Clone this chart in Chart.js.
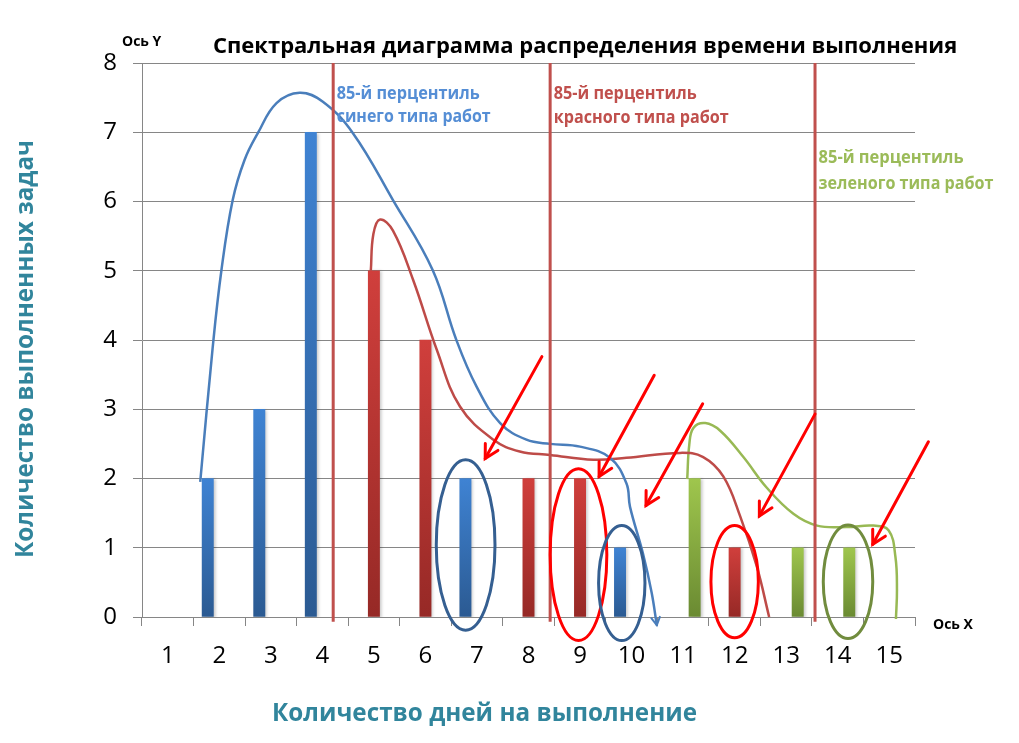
<!DOCTYPE html>
<html>
<head>
<meta charset="utf-8">
<script src="https://cdn.jsdelivr.net/npm/chart.js@4.4.1/dist/chart.umd.min.js"></script>
<style>
  html, body { margin: 0; padding: 0; background: #fff; }
</style>
</head>
<body>
<canvas id="spectrum" width="1019" height="743"></canvas>
<script>
const days = ["1", "2", "3", "4", "5", "6", "7", "8", "9", "10", "11", "12", "13", "14", "15"];

const blueTasks = [null, 2, 3, 7, null, null, 2, null, null, 1, null, null, null, null, null];
const redTasks = [null, null, null, null, 5, 4, null, 2, 2, null, null, 1, null, null, null];
const greenTasks = [null, null, null, null, null, null, null, null, null, null, 2, null, 1, 1, null];

// hand drawn trend curves, [day, tasks]
const blueCurve = [
  [1.63, 1.95], [1.87, 3.88], [2.04, 5.0], [2.26, 6.02], [2.49, 6.6], [2.75, 6.99], [3.11, 7.42],
  [3.56, 7.57], [4.01, 7.44], [4.59, 6.99], [5.37, 6.02], [6.14, 5.01], [6.6, 4.0],
  [6.99, 3.33], [7.45, 2.8], [7.96, 2.56], [8.42, 2.5], [9.0, 2.46], [9.58, 2.3],
  [9.9, 1.93], [9.97, 1.59], [10.22, 0.92], [10.39, 0.35], [10.49, -0.12],
];
const redCurve = [
  [4.94, 5.0], [4.99, 5.53], [5.12, 5.74], [5.37, 5.58], [5.76, 4.87], [6.22, 3.86],
  [6.67, 3.04], [7.32, 2.56], [7.83, 2.39], [8.42, 2.34], [9.26, 2.27], [9.9, 2.3],
  [10.94, 2.37], [11.39, 2.31], [11.78, 2.03], [12.11, 1.45], [12.43, 0.73], [12.67, 0.0],
];
const greenCurve = [
  [11.08, 1.99], [11.12, 2.49], [11.2, 2.73], [11.43, 2.8], [11.72, 2.69], [12.17, 2.31],
  [12.62, 1.87], [13.14, 1.49], [13.6, 1.32], [14.18, 1.3], [14.69, 1.32], [14.99, 1.25],
  [15.12, 0.87], [15.15, 0.39], [15.13, -0.03],
];

const percentiles = [4.21, 8.42, 13.56];
const percentileText = [
  ["85-й перцентиль", "синего типа работ"],
  ["85-й перцентиль", "красного типа работ"],
  ["85-й перцентиль", "зеленого типа работ"],
];

// circled bars: [day, tasks, half width in days, half height in tasks]
const circles = [
  [6.78, 1.04, 0.57, 1.23],
  [8.97, 0.9, 0.55, 1.24],
  [9.81, 0.49, 0.45, 0.83],
  [12.0, 0.51, 0.46, 0.81],
  [14.2, 0.51, 0.48, 0.82],
];
// arrows: [fromDay, fromTasks, toDay, toTasks]
const arrows = [
  [8.26, 3.76, 7.16, 2.29],
  [10.44, 3.49, 9.37, 2.03],
  [11.38, 3.08, 10.28, 1.61],
  [13.56, 2.93, 12.48, 1.46],
  [15.76, 2.53, 14.68, 1.05],
];

const FONT = "'Open Sans', 'Noto Sans', sans-serif";
const circleColors = ["#355f91", "#ff0000", "#355f91", "#ff0000", "#718c3e"];
const labelColors = ["#558ed5", "#c0504d", "#9bbb59"];
const SLOT = 0.224; // side shift of blue / green columns inside a day, like excel clusters

const barFill = (top, bottom) => (c) => {
  const y = c.chart.scales.y;
  if (!y || !c.raw || !c.chart.chartArea) return top;
  const g = c.chart.ctx.createLinearGradient(0, y.getPixelForValue(c.raw.y), 0, y.getPixelForValue(0));
  g.addColorStop(0, top);
  g.addColorStop(1, bottom);
  return g;
};

// bars sit on the day axis, shifted left/right inside the day like a clustered column
const bars = (label, values, shift, top, bottom) => ({
  label: label,
  xAxisID: "xl",
  grouped: false,
  data: values
    .map((v, i) => ({ x: Number(days[i]) + shift, y: v }))
    .filter((p) => p.y !== null),
  backgroundColor: barFill(top, bottom),
  categoryPercentage: 1,
  barPercentage: 1,
  maxBarThickness: 11.3,
});

const curve = (points, color) => ({
  type: "line",
  xAxisID: "xl",
  data: points.map(([x, y]) => ({ x, y })),
  borderColor: color,
  borderWidth: 2.5,
  pointRadius: 0,
  tension: 0.4,
  fill: false,
  clip: false,
});

const markerLine = (x) => ({
  type: "line",
  xAxisID: "xl",
  data: [{ x: x, y: 8 }, { x: x, y: -0.07 }],
  borderColor: "#c0504d",
  borderWidth: 3,
  pointRadius: 0,
  fill: false,
  clip: false,
});

const barShadow = {
  id: "barShadow",
  beforeDatasetDraw(chart, args) {
    if (args.meta.type !== "bar") return;
    const ctx = chart.ctx;
    ctx.save();
    ctx.shadowColor = "rgba(0,0,0,0.22)";
    ctx.shadowBlur = 3;
    ctx.shadowOffsetX = 2;
    ctx.shadowOffsetY = 1;
  },
  afterDatasetDraw(chart, args) {
    if (args.meta.type !== "bar") return;
    chart.ctx.restore();
  },
};

const arrowHead = (ctx, x1, y1, x2, y2, len) => {
  const a = Math.atan2(y2 - y1, x2 - x1);
  ctx.beginPath();
  ctx.moveTo(x2 - len * Math.cos(a - 0.5), y2 - len * Math.sin(a - 0.5));
  ctx.lineTo(x2, y2);
  ctx.lineTo(x2 - len * Math.cos(a + 0.5), y2 - len * Math.sin(a + 0.5));
  ctx.stroke();
};

const text = (ctx, str, x, y, font, color, width, align) => {
  ctx.font = font;
  ctx.fillStyle = color;
  ctx.textAlign = align || "left";
  ctx.textBaseline = "alphabetic";
  ctx.fillText(str, x, y, width);
};

const overlay = {
  id: "overlay",
  afterDatasetsDraw(chart) {
    const ctx = chart.ctx;
    const xs = chart.scales.xl;
    const ys = chart.scales.y;
    ctx.save();
    ctx.lineWidth = 3;
    circles.forEach(([cx, cy, rx, ry], i) => {
      const px = xs.getPixelForValue(cx);
      const py = ys.getPixelForValue(cy);
      ctx.strokeStyle = circleColors[i];
      ctx.beginPath();
      ctx.ellipse(px, py, Math.abs(xs.getPixelForValue(cx + rx) - px), Math.abs(ys.getPixelForValue(cy + ry) - py), 0, 0, Math.PI * 2);
      ctx.stroke();
    });
    ctx.strokeStyle = "#ff0000";
    ctx.lineCap = "round";
    arrows.forEach(([x1, y1, x2, y2]) => {
      const a = [xs.getPixelForValue(x1), ys.getPixelForValue(y1)];
      const b = [xs.getPixelForValue(x2), ys.getPixelForValue(y2)];
      ctx.beginPath();
      ctx.moveTo(a[0], a[1]);
      ctx.lineTo(b[0], b[1]);
      ctx.stroke();
      arrowHead(ctx, a[0], a[1], b[0], b[1], 15);
    });
    // little arrow at the end of the blue curve
    const n = blueCurve.length;
    ctx.strokeStyle = "#4a7ebb";
    ctx.lineWidth = 2;
    arrowHead(ctx,
      xs.getPixelForValue(blueCurve[n - 2][0]), ys.getPixelForValue(blueCurve[n - 2][1]),
      xs.getPixelForValue(blueCurve[n - 1][0]), ys.getPixelForValue(blueCurve[n - 1][1]), 9);

    const rows = [[99, 122], [99, 123], [163, 189]];
    const widths = [[143, 154], [143, 175], [145, 175]];
    percentiles.forEach((p, i) => {
      const x = xs.getPixelForValue(p) + 3.5;
      percentileText[i].forEach((t, j) => {
        text(ctx, t, x, rows[i][j], "bold 17px " + FONT, labelColors[i], widths[i][j]);
      });
    });
    ctx.restore();
  },
  afterDraw(chart) {
    const ctx = chart.ctx;
    ctx.save();
    text(ctx, "Спектральная диаграмма распределения времени выполнения", 213, 53, "bold 22px " + FONT, "#000", 745);
    text(ctx, "Ось Y", 122, 46, "bold 14px " + FONT, "#000", 40);
    text(ctx, "Ось X", 933, 629, "bold 14px " + FONT, "#000", 42);
    text(ctx, "Количество дней на выполнение", 272, 721, "bold 25px " + FONT, "#31859c", 425);
    ctx.translate(33, 349);
    ctx.rotate(-Math.PI / 2);
    text(ctx, "Количество выполненных задач", 0, 0, "bold 25px " + FONT, "#31859c", 418, "center");
    ctx.restore();
  },
};

new Chart(document.getElementById("spectrum"), {
  type: "bar",
  data: {
    labels: days,
    datasets: [
      bars("Синий", blueTasks, -SLOT, "#3f83d3", "#2b5a92"),
      bars("Красный", redTasks, 0, "#d03f3c", "#962926"),
      bars("Зеленый", greenTasks, SLOT, "#9fc64d", "#6a8a32"),
      markerLine(percentiles[0]),
      markerLine(percentiles[1]),
      markerLine(percentiles[2]),
      curve(blueCurve, "#4a7ebb"),
      curve(redCurve, "#be4b48"),
      curve(greenCurve, "#98b954"),
    ],
  },
  options: {
    responsive: false,
    animation: false,
    layout: { padding: { left: 0, right: 104, top: 63, bottom: 0 } },
    elements: { line: { capBezierPoints: false } },
    plugins: {
      legend: { display: false },
      title: { display: false },
      tooltip: { enabled: false },
    },
    scales: {
      x: {
        type: "category",
        offset: true,
        grid: { offset: true, drawOnChartArea: false, color: "#868686", tickLength: 9 },
        border: { color: "#868686" },
        ticks: { font: { family: FONT, size: 24 }, color: "#000", padding: 16 },
        afterFit(s) { s.height = 126; },
      },
      xl: { type: "linear", display: false, offset: false, grid: { offset: false }, min: 0.5, max: 15.5 },
      y: {
        min: 0,
        max: 8,
        ticks: { stepSize: 1, font: { family: FONT, size: 24 }, color: "#000", padding: 16 },
        grid: { color: "#868686", tickLength: 9 },
        border: { color: "#868686" },
        afterFit(s) { s.width = 142; },
      },
    },
  },
  plugins: [barShadow, overlay],
});
</script>
</body>
</html>
